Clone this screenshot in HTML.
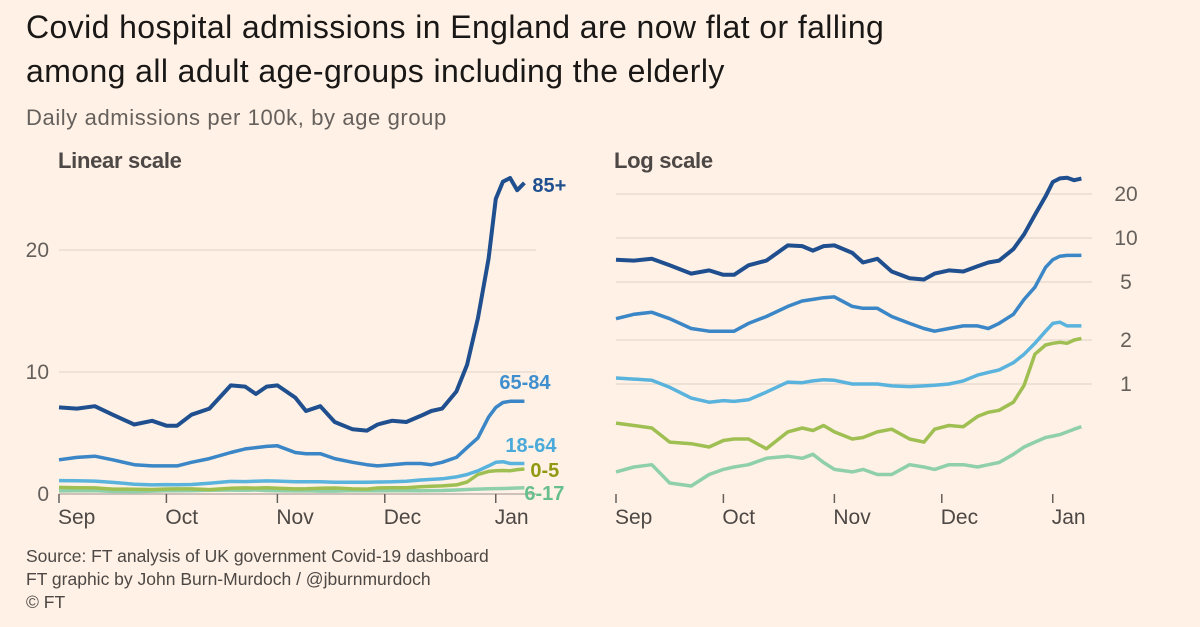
<!DOCTYPE html>
<html><head><meta charset="utf-8"><style>
body{margin:0;background:#fff1e5;width:1200px;height:627px;overflow:hidden;font-family:"Liberation Sans",sans-serif}
svg{position:absolute;left:0;top:0}
</style></head><body>
<svg width="1200" height="627">
<rect width="1200" height="627" fill="#fff1e5"/>
<text x="26" y="38" font-size="32" letter-spacing="0.4" fill="#1a1817">Covid hospital admissions in England are now flat or falling</text>
<text x="26" y="82" font-size="32" letter-spacing="0.4" fill="#1a1817">among all adult age-groups including the elderly</text>
<text x="26" y="125" font-size="22" letter-spacing="0.6" fill="#66605c">Daily admissions per 100k, by age group</text>
<text x="58" y="168" font-size="22" fill="#4d4845" font-weight="bold" letter-spacing="-0.3">Linear scale</text>
<text x="614" y="168" font-size="22" fill="#4d4845" font-weight="bold" letter-spacing="-0.3">Log scale</text>
<g id="lin"></g>
<g id="log"></g>
<text x="26" y="562" font-size="17.5" fill="#4d4845">Source: FT analysis of UK government Covid-19 dashboard</text>
<text x="26" y="585" font-size="17.5" fill="#4d4845">FT graphic by John Burn-Murdoch / @jburnmurdoch</text>
<text x="26" y="608" font-size="17.5" fill="#4d4845">© FT</text>
</svg>
<script>
const days=[0,5,10,15,21,26,30,33,37,42,48,52,55,58,61,66,69,73,77,82,86,89,93,97,101,104,107,111,114,117,120,122,124,126,128,130];
const v85=[7.1,7.0,7.2,6.5,5.7,6.0,5.6,5.6,6.5,7.0,8.9,8.8,8.2,8.8,8.9,7.9,6.8,7.2,5.9,5.3,5.2,5.7,6.0,5.9,6.4,6.8,7.0,8.4,10.6,14.4,19.3,24.2,25.6,25.9,24.9,25.5];
const v6584=[2.8,3.0,3.1,2.8,2.4,2.3,2.3,2.3,2.6,2.9,3.4,3.7,3.8,3.9,3.95,3.4,3.3,3.3,2.9,2.6,2.4,2.3,2.4,2.5,2.5,2.4,2.6,3.0,3.8,4.6,6.3,7.1,7.5,7.6,7.6,7.6];
const v1864=[1.1,1.08,1.06,0.95,0.8,0.75,0.77,0.76,0.78,0.88,1.03,1.02,1.05,1.07,1.06,1.0,1.0,1.0,0.97,0.96,0.97,0.98,1.0,1.05,1.15,1.2,1.25,1.4,1.6,1.9,2.3,2.6,2.65,2.5,2.5,2.5];
const v05=[0.54,0.52,0.5,0.4,0.39,0.37,0.41,0.42,0.42,0.36,0.47,0.5,0.48,0.52,0.47,0.42,0.43,0.47,0.49,0.42,0.4,0.49,0.52,0.51,0.6,0.64,0.66,0.75,0.98,1.6,1.85,1.9,1.93,1.9,2.0,2.05];
const v617=[0.25,0.27,0.28,0.21,0.2,0.24,0.26,0.27,0.28,0.31,0.32,0.31,0.33,0.29,0.26,0.25,0.26,0.24,0.24,0.28,0.27,0.26,0.28,0.28,0.27,0.28,0.29,0.33,0.37,0.4,0.43,0.44,0.45,0.47,0.49,0.51];
const linTicks=[0,10,20];
const logTicks=[1,2,5,10,20];
const monthLabels=["Sep","Oct","Nov","Dec","Jan"];
const monthDays=[0,30,61,91,122];
const seriesNames=["6-17","0-5","18-64","65-84","85+"];
const NS="http://www.w3.org/2000/svg";
const series=[v617,v05,v1864,v6584,v85];
const colors=["#8fd0ab","#9fbf52","#5ab3dd","#3a86c6","#1f4f8f"];
const labelColors=["#66bf8c","#8f9a12","#4aaad9","#3f8fcf","#1f4f8f"];
const PPD=3.58;
function mk(p,tag,at,txt){const e=document.createElementNS(NS,tag);for(const k in at)e.setAttribute(k,at[k]);if(txt!==undefined)e.textContent=txt;p.appendChild(e);return e;}
function drawPanel(g,x0,yfun,ticks,tickX,anchor,gx1,isLin){
  const xs=d=>x0+d*PPD;
  ticks.forEach(t=>{
    const y=yfun(t);
    const l=mk(g,'line',{x1:x0,x2:gx1,y1:y,y2:y,stroke:t===0&&isLin?'#bdb3aa':'#e8dcd2','stroke-width':1.5});
    
    
    const tx=mk(g,'text',{x:tickX,y:y+7,'font-size':21,fill:'#66605c','text-anchor':anchor},String(t));
    
    
  });
  monthDays.forEach((d,i)=>{
    const x=xs(d);
    const tk=mk(g,'line',{x1:x,x2:x,y1:494,y2:503,stroke:'#66605c','stroke-width':1.5});
    
    
    const t=mk(g,'text',{x:x-1,y:524,'font-size':21,fill:'#4d4845'},monthLabels[i]);
    
    
  });
  series.forEach((s,i)=>{
    const pts=s.map((v,j)=>xs(days[j]).toFixed(1)+','+yfun(v).toFixed(1)).join(' ');
    const p=mk(g,'polyline',{points:pts,fill:'none',stroke:colors[i],'stroke-width':i===4?4:3.5,'stroke-linejoin':'round'});
    
    
  });
}
const linY=v=>494-v*12.2;
const logY=v=>384-Math.log10(v)*146;
drawPanel(document.getElementById('lin'),59,linY,linTicks,49,'end',536,true);
drawPanel(document.getElementById('log'),616,logY,logTicks,1126,'middle',1092,false);
const lg=document.getElementById('lin');
const lastX=59+days[days.length-1]*PPD;
const labelPos=[[lastX,500],[lastX+6,477],[lastX-19,452],[lastX-25,389],[lastX+8,192]];
seriesNames.forEach((n,i)=>{
  const t=mk(lg,'text',{x:labelPos[i][0],y:labelPos[i][1],'font-size':20,'font-weight':'bold',fill:labelColors[i]},n);
  
  
});
</script>
</body></html>
